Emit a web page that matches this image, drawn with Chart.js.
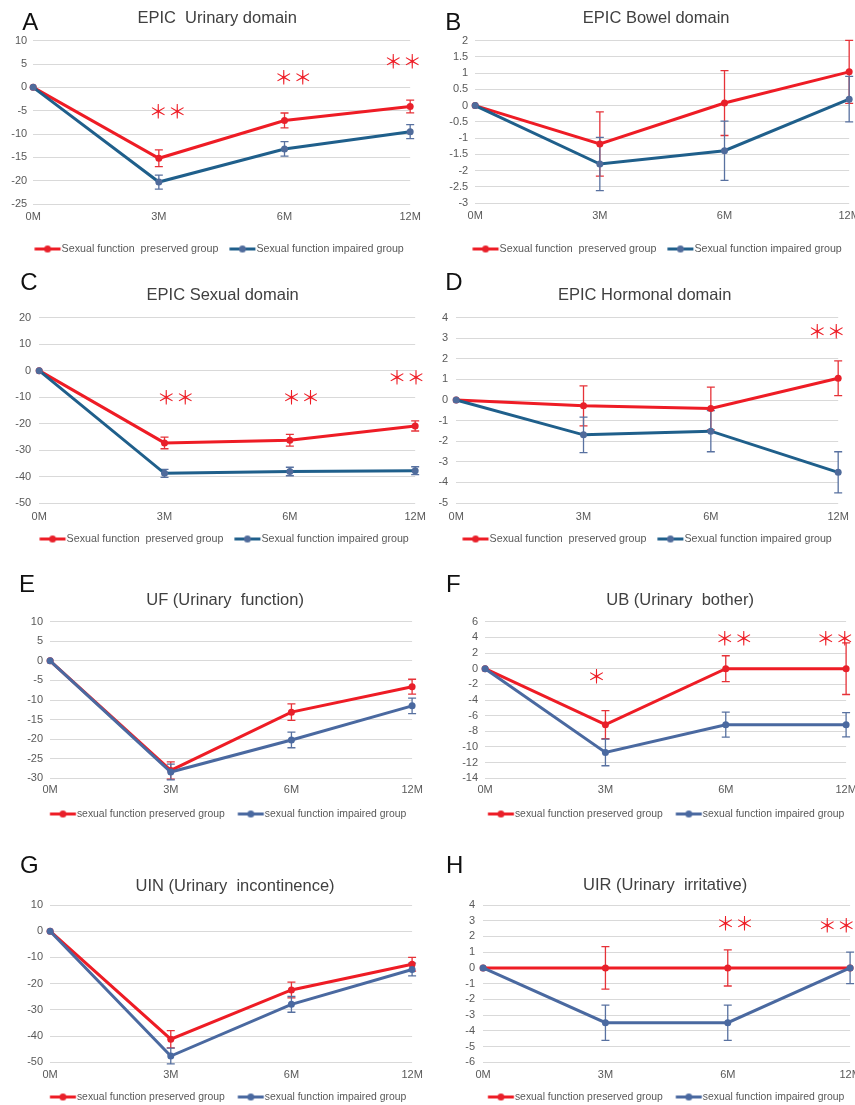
<!DOCTYPE html>
<html><head><meta charset="utf-8">
<script src="https://cdn.jsdelivr.net/npm/chart.js@4"></script>
<style>
html,body{margin:0;padding:0;background:#fff;}
body{position:relative;width:855px;height:1105px;overflow:hidden;}
canvas{position:absolute;}
</style></head><body>
<script>
const categories = ['0M', '3M', '6M', '12M'];

// A  EPIC Urinary domain
const urinaryPreserved = [0, -15.2, -7.1, -4.1];
const urinaryPreservedErr = [0, 1.8, 1.6, 1.35];
const urinaryImpaired = [0, -20.3, -13.2, -9.5];
const urinaryImpairedErr = [0, 1.5, 1.55, 1.5];
const urinaryTicks = [-25, 10, 5];
const urinarySig = [[1.07, -5.3, '＊＊'], [2.07, 1.95, '＊＊'], [2.94, 5.4, '＊＊']];

// B  EPIC Bowel domain
const bowelPreserved = [0, -1.18, 0.08, 1.04];
const bowelPreservedErr = [0, 0.99, 1.0, 0.97];
const bowelImpaired = [0, -1.8, -1.39, 0.2];
const bowelImpairedErr = [0, 0.82, 0.91, 0.7];
const bowelTicks = [-3, 2, 0.5];
const bowelSig = [];

// C  EPIC Sexual domain
const sexualPreserved = [0, -27.3, -26.3, -20.9];
const sexualPreservedErr = [0, 2.2, 2.25, 1.9];
const sexualImpaired = [0, -38.8, -38.1, -37.8];
const sexualImpairedErr = [0, 1.5, 1.6, 1.5];
const sexualTicks = [-50, 20, 10];
const sexualSig = [[1.09, -10.2, '＊＊'], [2.09, -10.2, '＊＊'], [2.93, -2.85, '＊＊']];

// D  EPIC Hormonal domain
const hormonalPreserved = [0, -0.28, -0.41, 1.06];
const hormonalPreservedErr = [0, 0.97, 1.04, 0.84];
const hormonalImpaired = [0, -1.69, -1.51, -3.51];
const hormonalImpairedErr = [0, 0.86, 1.0, 1.0];
const hormonalTicks = [-5, 4, 1];
const hormonalSig = [[2.91, 3.32, '＊＊']];

// E  UF (Urinary function)
const ufPreserved = [0, -28.0, -13.1, -6.6];
const ufPreservedErr = [0, 2.2, 2.1, 1.9];
const ufImpaired = [0, -28.4, -20.2, -11.5];
const ufImpairedErr = [0, 2.0, 2.0, 2.0];
const ufTicks = [-30, 10, 5];
const ufSig = [];

// F  UB (Urinary bother)
const ubPreserved = [0, -7.15, 0, 0];
const ubPreservedErr = [0, 1.8, 1.65, 3.3];
const ubImpaired = [0, -10.7, -7.15, -7.15];
const ubImpairedErr = [0, 1.7, 1.6, 1.55];
const ubTicks = [-14, 6, 2];
const ubSig = [[0.925, -1.0, '＊'], [2.07, 3.79, '＊＊'], [2.91, 3.79, '＊＊']];

// G  UIN (Urinary incontinence)
const uinPreserved = [0, -41.2, -22.4, -12.6];
const uinPreservedErr = [0, 3.3, 3.0, 2.6];
const uinImpaired = [0, -47.6, -27.9, -14.6];
const uinImpairedErr = [0, 3.0, 3.0, 2.4];
const uinTicks = [-50, 10, 10];
const uinSig = [];

// H  UIR (Urinary irritative)
const uirPreserved = [0, 0, 0, 0];
const uirPreservedErr = [0, 1.35, 1.15, 0];
const uirImpaired = [0, -3.48, -3.48, 0];
const uirImpairedErr = [0, 1.12, 1.12, 1.0];
const uirTicks = [-6, 4, 1];
const uirSig = [[2.06, 2.79, '＊＊'], [2.89, 2.7, '＊＊']];

const legendUpper = ['Sexual function  preserved group', 'Sexual function impaired group'];
const legendLower = ['sexual function preserved group', 'sexual function impaired group'];

const titles = ['EPIC  Urinary domain', 'EPIC Bowel domain', 'EPIC Sexual domain', 'EPIC Hormonal domain',
  'UF (Urinary  function)', 'UB (Urinary  bother)', 'UIN (Urinary  incontinence)', 'UIR (Urinary  irritative)'];
const letters = ['A', 'B', 'C', 'D', 'E', 'F', 'G', 'H'];

const seriesSets = [
  [urinaryPreserved, urinaryPreservedErr, urinaryImpaired, urinaryImpairedErr, urinaryTicks, urinarySig],
  [bowelPreserved, bowelPreservedErr, bowelImpaired, bowelImpairedErr, bowelTicks, bowelSig],
  [sexualPreserved, sexualPreservedErr, sexualImpaired, sexualImpairedErr, sexualTicks, sexualSig],
  [hormonalPreserved, hormonalPreservedErr, hormonalImpaired, hormonalImpairedErr, hormonalTicks, hormonalSig],
  [ufPreserved, ufPreservedErr, ufImpaired, ufImpairedErr, ufTicks, ufSig],
  [ubPreserved, ubPreservedErr, ubImpaired, ubImpairedErr, ubTicks, ubSig],
  [uinPreserved, uinPreservedErr, uinImpaired, uinImpairedErr, uinTicks, uinSig],
  [uirPreserved, uirPreservedErr, uirImpaired, uirImpairedErr, uirTicks, uirSig]
];

// page layout of each panel (pixels); cx = visual centre of the legend row
const layouts = [
  {cx: 219, y0: 0,   L: 33,  R: 410, T: 40.7,  B: 204,    ly: 249,  xPad: 7.5, yPad: 6, tx: 217,   ty: 23.3, lx: 22,  lyy: 30},
  {cx: 657, y0: 0,   L: 475, R: 849, T: 40.7,  B: 203,    ly: 249,  xPad: 7.5, yPad: 7, tx: 656,   ty: 23.3, lx: 445, lyy: 30},
  {cx: 224, y0: 262, L: 39,  R: 415, T: 317.7, B: 503,    ly: 539,  xPad: 8.5, yPad: 8, tx: 222.5, ty: 300,  lx: 20,  lyy: 290},
  {cx: 647, y0: 262, L: 456, R: 838, T: 317.7, B: 503,    ly: 539,  xPad: 8.5, yPad: 8, tx: 644.5, ty: 300,  lx: 445, lyy: 290},
  {cx: 228, y0: 560, L: 50,  R: 412, T: 621.7, B: 778.3,  ly: 814,  xPad: 6.2, yPad: 7, tx: 225,   ty: 605,  lx: 19,  lyy: 591.7},
  {cx: 666, y0: 560, L: 485, R: 846, T: 621.7, B: 778.3,  ly: 814,  xPad: 6.2, yPad: 7, tx: 680,   ty: 605,  lx: 446, lyy: 591.7},
  {cx: 228, y0: 830, L: 50,  R: 412, T: 905,   B: 1062.3, ly: 1097, xPad: 6.8, yPad: 7, tx: 235,   ty: 891,  lx: 20,  lyy: 873.3},
  {cx: 666, y0: 830, L: 483, R: 850, T: 905,   B: 1062.3, ly: 1097, xPad: 6.8, yPad: 8, tx: 665,   ty: 890,  lx: 446, lyy: 873.3}
];

const RED = '#ee1c25', RED_PT = '#e8202a', RED_ERR = '#e63238';
const BLUE_UP = '#1f5f8b', BLUE_UP_PT = '#4f6b9b';
const BLUE_LO = '#4a69a0', BLUE_ERR = '#5871a0';
const FONT = '"Liberation Sans", Arial, sans-serif';

const BOXW = 30, LINE_LEN = 26;

// legend marker: line with a dot, placed so the line ends just before the text
function legendMark(lineColor, dotColor, fs) {
  const s = BOXW + fs / 2 - LINE_LEN - 1;          // line start offset from item start
  const half = Math.ceil(s + LINE_LEN - BOXW / 2) + 1;
  const c = document.createElement('canvas');
  c.width = half * 2; c.height = 9;
  const g = c.getContext('2d');
  const x1 = half + (s - BOXW / 2), x2 = x1 + LINE_LEN;
  g.strokeStyle = lineColor; g.lineWidth = 3;
  g.beginPath(); g.moveTo(x1, 4.5); g.lineTo(x2, 4.5); g.stroke();
  g.fillStyle = dotColor;
  g.beginPath(); g.arc((x1 + x2) / 2, 4.5, 3.5, 0, Math.PI * 2); g.fill();
  return {img: c, s: s};
}

const decoPlugin = {
  id: 'deco',
  beforeDatasetsDraw(chart) {
    const d = chart.canvas._deco; if (!d) return;
    const ctx = chart.ctx, xs = chart.scales.x, ys = chart.scales.y;
    d.errors.forEach(e => {
      ctx.save();
      ctx.strokeStyle = e.color; ctx.lineWidth = 1.3;
      ctx.beginPath();
      e.values.forEach((v, i) => {
        const s = e.err[i]; if (!s) return;
        const px = xs.getPixelForValue(i);
        const t = ys.getPixelForValue(v + s), b = ys.getPixelForValue(v - s);
        ctx.moveTo(px, t); ctx.lineTo(px, b);
        ctx.moveTo(px - 4, t); ctx.lineTo(px + 4, t);
        ctx.moveTo(px - 4, b); ctx.lineTo(px + 4, b);
      });
      ctx.stroke();
      ctx.restore();
    });
  },
  afterDraw(chart) {
    const d = chart.canvas._deco; if (!d) return;
    const ctx = chart.ctx, xs = chart.scales.x, ys = chart.scales.y;
    ctx.save();
    ctx.textBaseline = 'alphabetic';
    ctx.fillStyle = '#111';
    ctx.textAlign = 'left';
    ctx.font = '24px ' + FONT;
    ctx.fillText(d.letter, d.lx, d.lyy);
    ctx.fillStyle = '#404040';
    ctx.textAlign = 'center';
    ctx.font = '16.5px ' + FONT;
    ctx.fillText(d.title, d.tx, d.ty);
    ctx.fillStyle = RED;
    ctx.textBaseline = 'middle';
    ctx.font = '19px "Noto Sans CJK JP", sans-serif';
    d.sig.forEach(s => {
      ctx.fillText(s[2], xs.getPixelForValue(s[0]), ys.getPixelForValue(s[1]));
    });
    ctx.restore();
  }
};

const SIDE = 15;

seriesSets.forEach((set, k) => {
  const [pres, presErr, imp, impErr, ticks, sig] = set;
  const lay = layouts[k];
  const upper = k < 4;
  const fs = upper ? 10.7 : 10.4;        // legend font size
  const gap = upper ? 11 : 13;           // visual gap between legend items
  const blueLine = upper ? BLUE_UP : BLUE_LO;
  const bluePt = upper ? BLUE_UP_PT : BLUE_LO;
  const labels = upper ? legendUpper : legendLower;
  const m1 = legendMark(RED, RED_PT, fs), m2 = legendMark(blueLine, bluePt, fs);
  const marks = [m1.img, m2.img];
  const P = Math.max(gap - m1.s, 1);     // legend labels.padding

  const legCenter = lay.cx - m1.s / 2;   // Chart.js centre of the legend row
  const x0 = legCenter - 215 - SIDE, w = 430 + 2 * SIDE;
  const hExact = lay.ly - lay.y0 + 10 + fs / 2;
  const h = Math.ceil(hExact);
  const pb = h - hExact;
  const xh = lay.ly - fs / 2 - P - lay.B;
  const yw = lay.L - x0 - SIDE;
  const rw = x0 + w - SIDE - lay.R;

  const cv = document.createElement('canvas');
  cv.width = w; cv.height = h;
  cv.style.left = x0 + 'px'; cv.style.top = lay.y0 + 'px';
  cv.style.width = w + 'px'; cv.style.height = h + 'px';
  document.body.appendChild(cv);
  cv._deco = {
    letter: letters[k], lx: lay.lx - x0, lyy: lay.lyy - lay.y0,
    title: titles[k], tx: lay.tx - x0, ty: lay.ty - lay.y0,
    sig: sig,
    errors: [
      {values: pres, err: presErr, color: RED_ERR},
      {values: imp, err: impErr, color: BLUE_ERR}
    ]
  };

  new Chart(cv, {
    type: 'line',
    data: {
      labels: categories,
      datasets: [
        {label: labels[0], data: pres, borderColor: RED, backgroundColor: RED_PT, pointBackgroundColor: RED_PT,
         pointBorderWidth: 0, pointRadius: 3.5, borderWidth: 3, tension: 0, order: 1, clip: false},
        {label: labels[1], data: imp, borderColor: blueLine, backgroundColor: bluePt, pointBackgroundColor: bluePt,
         pointBorderWidth: 0, pointRadius: 3.5, borderWidth: 3, tension: 0, order: 0, clip: false}
      ]
    },
    options: {
      responsive: false, animation: false, devicePixelRatio: 1,
      layout: {padding: {left: SIDE, right: SIDE, top: lay.T - lay.y0, bottom: pb}},
      plugins: {
        title: {display: false},
        tooltip: {enabled: false},
        legend: {
          display: true, position: 'bottom', align: 'center', fullSize: true,
          labels: {
            usePointStyle: true, pointStyleWidth: BOXW, padding: P, color: '#595959',
            font: {family: FONT, size: fs},
            generateLabels: ch => ch.data.datasets.map((ds, i) => ({
              text: ds.label, pointStyle: marks[i], datasetIndex: i, hidden: false,
              fontColor: '#595959', lineWidth: 0, strokeStyle: 'rgba(0,0,0,0)', fillStyle: 'rgba(0,0,0,0)'
            }))
          }
        }
      },
      scales: {
        x: {
          type: 'category', offset: false,
          grid: {display: false, drawTicks: false}, border: {display: false},
          ticks: {padding: lay.xPad, color: '#595959', font: {family: FONT, size: 11, lineHeight: 1},
                  maxRotation: 0, autoSkip: false},
          afterFit: s => { s.height = xh; }
        },
        y: {
          type: 'linear', position: 'left', min: ticks[0], max: ticks[1],
          grid: {color: '#d9d9d9', lineWidth: 1, drawTicks: false},
          border: {display: false},
          ticks: {stepSize: ticks[2], padding: lay.yPad, color: '#595959', autoSkip: false,
                  font: {family: FONT, size: 11, lineHeight: 1},
                  callback: v => String(v)},
          afterFit: s => { s.width = yw; }
        },
        yR: {
          type: 'linear', position: 'right', display: true,
          grid: {display: false}, border: {display: false}, ticks: {display: false},
          afterFit: s => { s.width = rw; }
        }
      }
    },
    plugins: [decoPlugin]
  });
});
</script>
</body></html>
